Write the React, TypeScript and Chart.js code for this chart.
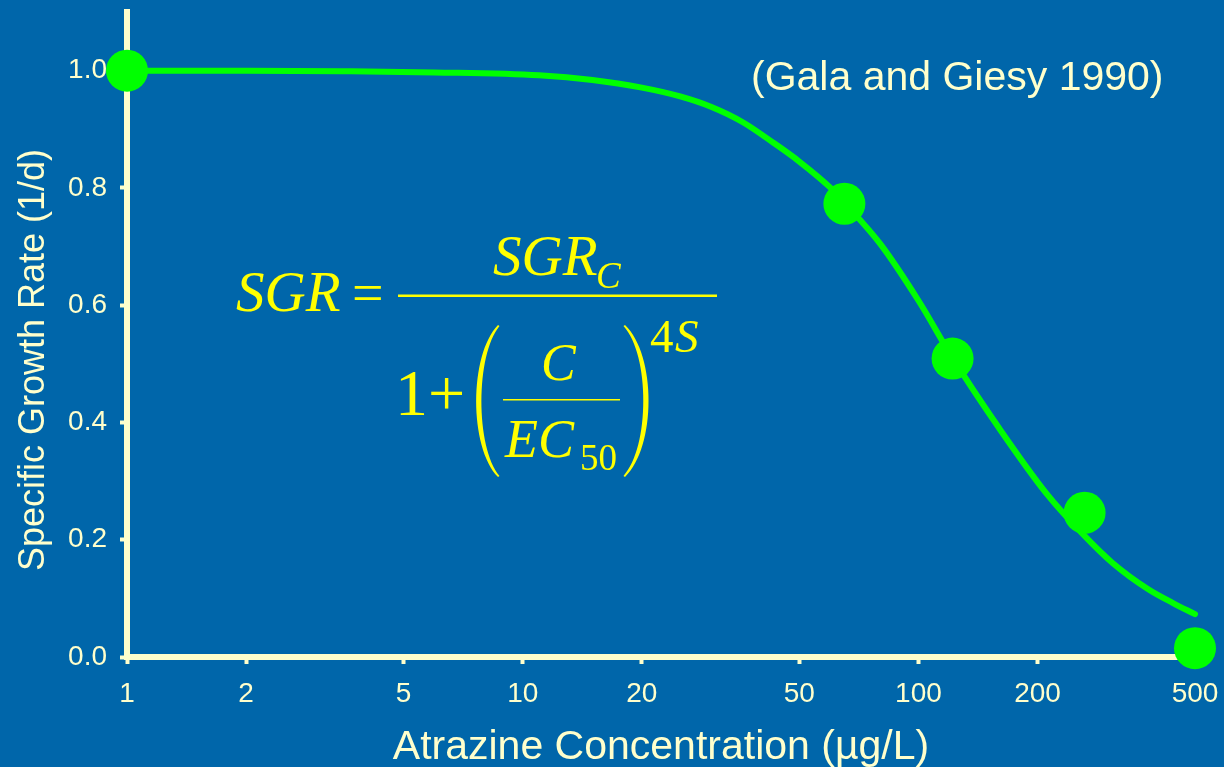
import React, { useEffect, useRef } from 'react';
import { Chart, registerables } from 'chart.js';

Chart.register(...registerables);

// Measured growth rates at each atrazine concentration
const concentrations = [1, 65, 122, 263, 500];
const growthRates = [1.0, 0.773, 0.509, 0.246, 0.015];

// Fitted dose-response curve
const fitConcentrations = [1, 2, 3.5, 6, 11, 15, 20, 25, 30, 36, 43, 50, 60, 65, 80, 100, 122, 160, 210, 260, 310, 380, 440, 500];
const fitRates = [1.0, 1.0, 0.999, 0.997, 0.992, 0.984, 0.971, 0.956, 0.938, 0.912, 0.877, 0.845, 0.8, 0.775, 0.705, 0.608, 0.51, 0.39, 0.28, 0.21, 0.16, 0.116, 0.092, 0.073];

const xTicks = [1, 2, 5, 10, 20, 50, 100, 200, 500];
const yTicks = [0, 0.2, 0.4, 0.6, 0.8, 1.0];

const X_TITLE = 'Atrazine Concentration (\u00B5g/L)';
const Y_TITLE = 'Specific Growth Rate (1/d)';
const CITATION = '(Gala and Giesy 1990)';

const BG = '#0066AA';
const CREAM = '#FFFFCC';
const GREEN = '#00FF00';
const YELLOW = '#FFFF00';
const SANS = '"Liberation Sans", Arial, Helvetica, sans-serif';
const SERIF = '"Liberation Serif", "Times New Roman", serif';

// Draws the rotated y title, the citation and the SGR equation
const overlayPlugin = {
  id: 'overlay',
  afterDraw(chart: any) {
    const ctx: CanvasRenderingContext2D = chart.ctx;

    ctx.save();
    ctx.fillStyle = CREAM;
    ctx.font = `36px ${SANS}`;
    ctx.textAlign = 'center';
    ctx.textBaseline = 'alphabetic';
    ctx.translate(44, 360);
    ctx.rotate(-Math.PI / 2);
    ctx.fillText(Y_TITLE, 0, 0);
    ctx.restore();

    ctx.save();
    ctx.fillStyle = CREAM;
    ctx.font = `41px ${SANS}`;
    ctx.textAlign = 'left';
    ctx.textBaseline = 'alphabetic';
    ctx.fillText(CITATION, 751, 90);
    ctx.restore();

    // Equation: SGR = SGR_C / (1 + (C / EC50)^4S)
    ctx.save();
    ctx.fillStyle = YELLOW;
    ctx.textAlign = 'left';
    ctx.textBaseline = 'alphabetic';
    const txt = (s: string, x: number, y: number, size: number, italic: boolean) => {
      ctx.font = `${italic ? 'italic ' : ''}${size}px ${SERIF}`;
      ctx.fillText(s, x, y);
    };
    txt('SGR', 236, 311, 57, true);
    txt('=', 352, 312, 56, false);
    ctx.fillRect(398, 294.5, 319, 2.5);
    txt('SGR', 493, 275, 57, true);
    txt('C', 596, 288, 37, true);
    txt('1', 395, 415, 66, false);
    txt('+', 428, 415, 66, false);
    txt('C', 541, 380, 52, true);
    ctx.fillRect(503, 399, 117, 1.5);
    txt('EC', 505, 457, 54, true);
    txt('50', 580, 470, 37, false);
    txt('4', 650, 352, 47, false);
    txt('S', 675, 352, 47, true);

    // tall parentheses around the inner fraction
    ctx.beginPath();
    ctx.moveTo(498, 325);
    ctx.bezierCurveTo(469, 355, 469, 447, 498, 477);
    ctx.lineTo(499.5, 476);
    ctx.bezierCurveTo(475.5, 447, 475.5, 355, 499.5, 326);
    ctx.closePath();
    ctx.fill();

    ctx.beginPath();
    ctx.moveTo(625, 325);
    ctx.bezierCurveTo(656.5, 355, 656.5, 447, 625, 477);
    ctx.lineTo(623.5, 476);
    ctx.bezierCurveTo(650, 447, 650, 355, 623.5, 326);
    ctx.closePath();
    ctx.fill();
    ctx.restore();
  },
};

// Keep tick labels from pushing the plot area inwards
const clearScalePadding = (axis: any) => {
  axis.paddingTop = 0;
  axis.paddingBottom = 0;
  axis.paddingLeft = 0;
  axis.paddingRight = 0;
};

export default function App() {
  const canvasRef = useRef<HTMLCanvasElement>(null);

  useEffect(() => {
    const canvas = canvasRef.current;
    if (!canvas) return;

    const observed = concentrations.map((c, i) => ({ x: c, y: growthRates[i] }));
    const fitted = fitConcentrations.map((c, i) => ({ x: c, y: fitRates[i] }));

    const axisGrid = {
      display: true,
      drawOnChartArea: false,
      drawTicks: true,
      tickLength: 7,
      tickWidth: 4,
      tickColor: CREAM,
      color: CREAM,
    };
    const axisBorder = { display: true, color: CREAM, width: 6 };

    const chart = new Chart(canvas, {
      type: 'scatter',
      data: {
        datasets: [
          {
            label: 'Observed',
            data: observed,
            showLine: false,
            pointRadius: 21,
            pointHoverRadius: 21,
            pointBackgroundColor: GREEN,
            pointBorderWidth: 0,
            backgroundColor: GREEN,
            borderColor: GREEN,
            clip: false,
            order: 0,
          },
          {
            label: 'Fit',
            data: fitted,
            showLine: true,
            pointRadius: 0,
            pointHoverRadius: 0,
            borderColor: GREEN,
            borderWidth: 6,
            borderCapStyle: 'round',
            cubicInterpolationMode: 'monotone',
            clip: false,
            order: 1,
          },
        ],
      },
      options: {
        responsive: false,
        animation: false,
        devicePixelRatio: 1,
        layout: { autoPadding: false, padding: { top: 12, right: 29, left: 0, bottom: 0 } },
        plugins: {
          legend: { display: false },
          tooltip: { enabled: false },
        },
        scales: {
          x: {
            type: 'logarithmic',
            min: 1,
            max: 500,
            afterBuildTicks: (axis: any) => {
              axis.ticks = xTicks.map((v) => ({ value: v }));
            },
            afterFit: (axis: any) => {
              axis.height = 110;
              clearScalePadding(axis);
            },
            border: axisBorder,
            grid: axisGrid,
            ticks: {
              color: CREAM,
              font: { family: SANS, size: 28 },
              padding: 13,
              maxRotation: 0,
              autoSkip: false,
              callback: (v: any) => String(v),
            },
            title: {
              display: true,
              text: X_TITLE,
              color: CREAM,
              font: { family: SANS, size: 41, lineHeight: 1 },
              padding: { top: 0, bottom: -1 },
            },
          },
          y: {
            type: 'linear',
            min: 0,
            max: 1.1,
            afterBuildTicks: (axis: any) => {
              axis.ticks = yTicks.map((v) => ({ value: v }));
            },
            afterFit: (axis: any) => {
              axis.width = 127;
              clearScalePadding(axis);
            },
            border: axisBorder,
            grid: axisGrid,
            ticks: {
              color: CREAM,
              font: { family: SANS, size: 28 },
              padding: 13,
              callback: (v: any) => Number(v).toFixed(1),
            },
          },
        },
      },
      plugins: [overlayPlugin],
    } as any);

    return () => chart.destroy();
  }, []);

  return (
    <div
      style={{
        position: 'fixed',
        left: 0,
        top: 0,
        width: 1224,
        height: 767,
        background: BG,
        overflow: 'hidden',
      }}
    >
      <canvas ref={canvasRef} width={1224} height={767} style={{ display: 'block' }} />
    </div>
  );
}
